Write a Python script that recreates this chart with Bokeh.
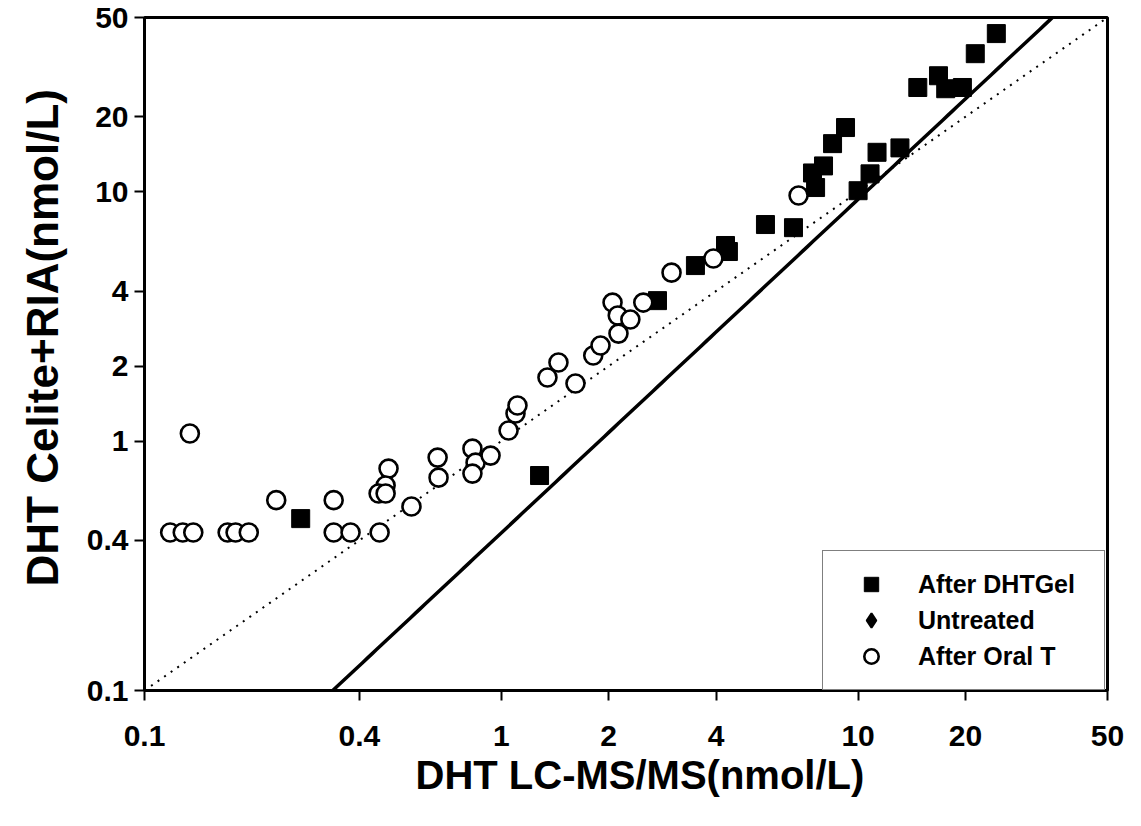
import numpy as np
from bokeh.plotting import figure
from bokeh.models import Range1d, FixedTicker, Legend, LegendItem, Title
from bokeh.embed import file_html
from bokeh.resources import INLINE

# ---- data ----
gel_x = [0.274, 1.28, 2.74, 3.50, 4.25, 4.33, 5.50, 6.59, 7.45, 7.60, 8.00, 8.48, 9.22,
         10.0, 10.8, 11.3, 13.1, 14.7, 16.8, 17.6, 19.6, 21.3, 24.4]
gel_y = [0.489, 0.728, 3.66, 5.06, 6.09, 5.76, 7.39, 7.18, 11.9, 10.4, 12.7, 15.6, 18.1,
         10.1, 11.8, 14.4, 15.0, 26.2, 29.2, 25.9, 26.2, 35.8, 43.1]

# "Untreated" has no visible points; a NaN placeholder keeps its legend entry
untreated_x = [float("nan")]
untreated_y = [float("nan")]

oral_x = [0.118, 0.128, 0.137, 0.134, 0.171, 0.180, 0.196, 0.234, 0.339, 0.339, 0.378,
          0.456, 0.483, 0.474, 0.453, 0.474, 0.560, 0.663, 0.667, 0.830, 0.847, 0.830,
          0.933, 1.048, 1.096, 1.11, 1.347, 1.446, 1.614, 1.81, 1.897, 2.05, 2.12, 2.13,
          2.30, 2.50, 3.00, 3.93, 6.81]
oral_y = [0.430, 0.430, 0.430, 1.073, 0.430, 0.430, 0.430, 0.580, 0.580, 0.430, 0.430,
          0.430, 0.776, 0.664, 0.617, 0.617, 0.547, 0.859, 0.714, 0.933, 0.820, 0.741,
          0.875, 1.103, 1.290, 1.389, 1.799, 2.066, 1.702, 2.204, 2.417, 3.595, 3.19, 2.699,
          3.073, 3.595, 4.74, 5.40, 9.66]

# regression line on log-log axes: log10(y) = fit_a + fit_b * log10(x)
fit_a = -0.368
fit_b = 1.338

tick_values = [0.1, 0.4, 1, 2, 4, 10, 20, 50]
tick_labels = ["0.1", "0.4", "1", "2", "4", "10", "20", "50"]

x_title = "DHT LC-MS/MS(nmol/L)"
y_title = "DHT Celite+RIA(nmol/L)"

axis_min, axis_max = 0.1, 50

FONT = "Liberation Sans"

p = figure(width=1125, height=806, x_axis_type="log", y_axis_type="log",
           x_range=Range1d(axis_min, axis_max), y_range=Range1d(axis_min, axis_max),
           output_backend="svg", toolbar_location=None,
           min_border_left=144, min_border_right=18, min_border_top=17, min_border_bottom=116)

p.xgrid.visible = False
p.ygrid.visible = False
p.outline_line_color = "black"
p.outline_line_width = 3
p.background_fill_color = "white"
p.border_fill_color = "white"

# lines
lx = np.geomspace(axis_min, axis_max, 200)
p.line(lx, lx, line_color="black", line_width=2, line_dash="2 6")
p.line(lx, 10 ** (fit_a + fit_b * np.log10(lx)), line_color="black", line_width=3.5)

# points
r_gel = p.scatter(gel_x, gel_y, marker="square", size=18, fill_color="black", line_color="black")
r_unt = p.scatter(untreated_x, untreated_y, marker="diamond", size=18,
                  fill_color="black", line_color="black", line_width=2)
r_oral = p.scatter(oral_x, oral_y, marker="circle", size=18, fill_color="white",
                   line_color="black", line_width=2.6)

overrides = dict(zip(tick_values, tick_labels))
for ax in (p.xaxis[0], p.yaxis[0]):
    ax.ticker = FixedTicker(ticks=tick_values, minor_ticks=[])
    ax.major_label_overrides = overrides
    ax.axis_line_width = 3
    ax.axis_line_color = "black"
    ax.major_tick_out = 10
    ax.major_tick_in = 0
    ax.major_tick_line_width = 2
    ax.minor_tick_line_color = None
    ax.major_label_text_font = FONT
    ax.major_label_text_font_style = "bold"
    ax.major_label_text_font_size = "30px"
    ax.major_label_text_color = "black"

p.xaxis[0].major_label_standoff = 25
p.yaxis[0].major_label_standoff = 6

xt = Title(text=x_title, align="left", offset=271, standoff=4,
           text_font=FONT, text_font_style="bold", text_font_size="40px", text_color="black")
p.add_layout(xt, "below")
yt = Title(text=y_title, align="left", offset=104, standoff=30, vertical_align="top",
           text_font=FONT, text_font_style="bold", text_font_size="44px", text_color="black")
p.add_layout(yt, "left")

legend = Legend(items=[LegendItem(label="After DHTGel", renderers=[r_gel]),
                       LegendItem(label="Untreated", renderers=[r_unt]),
                       LegendItem(label="After Oral T", renderers=[r_oral])],
                location=(678, 0))
legend.label_text_font = FONT
legend.label_text_font_style = "bold"
legend.label_text_font_size = "25px"
legend.label_text_color = "black"
legend.glyph_width = 66
legend.glyph_height = 36
legend.label_height = 36
legend.label_width = 171
legend.spacing = 0
legend.padding = 15
legend.margin = 0
legend.label_standoff = 14
legend.border_line_color = "black"
legend.border_line_width = 1
legend.background_fill_color = "white"
legend.background_fill_alpha = 1
p.add_layout(legend, "center")

open("out.html", "w").write(file_html(p, INLINE))
